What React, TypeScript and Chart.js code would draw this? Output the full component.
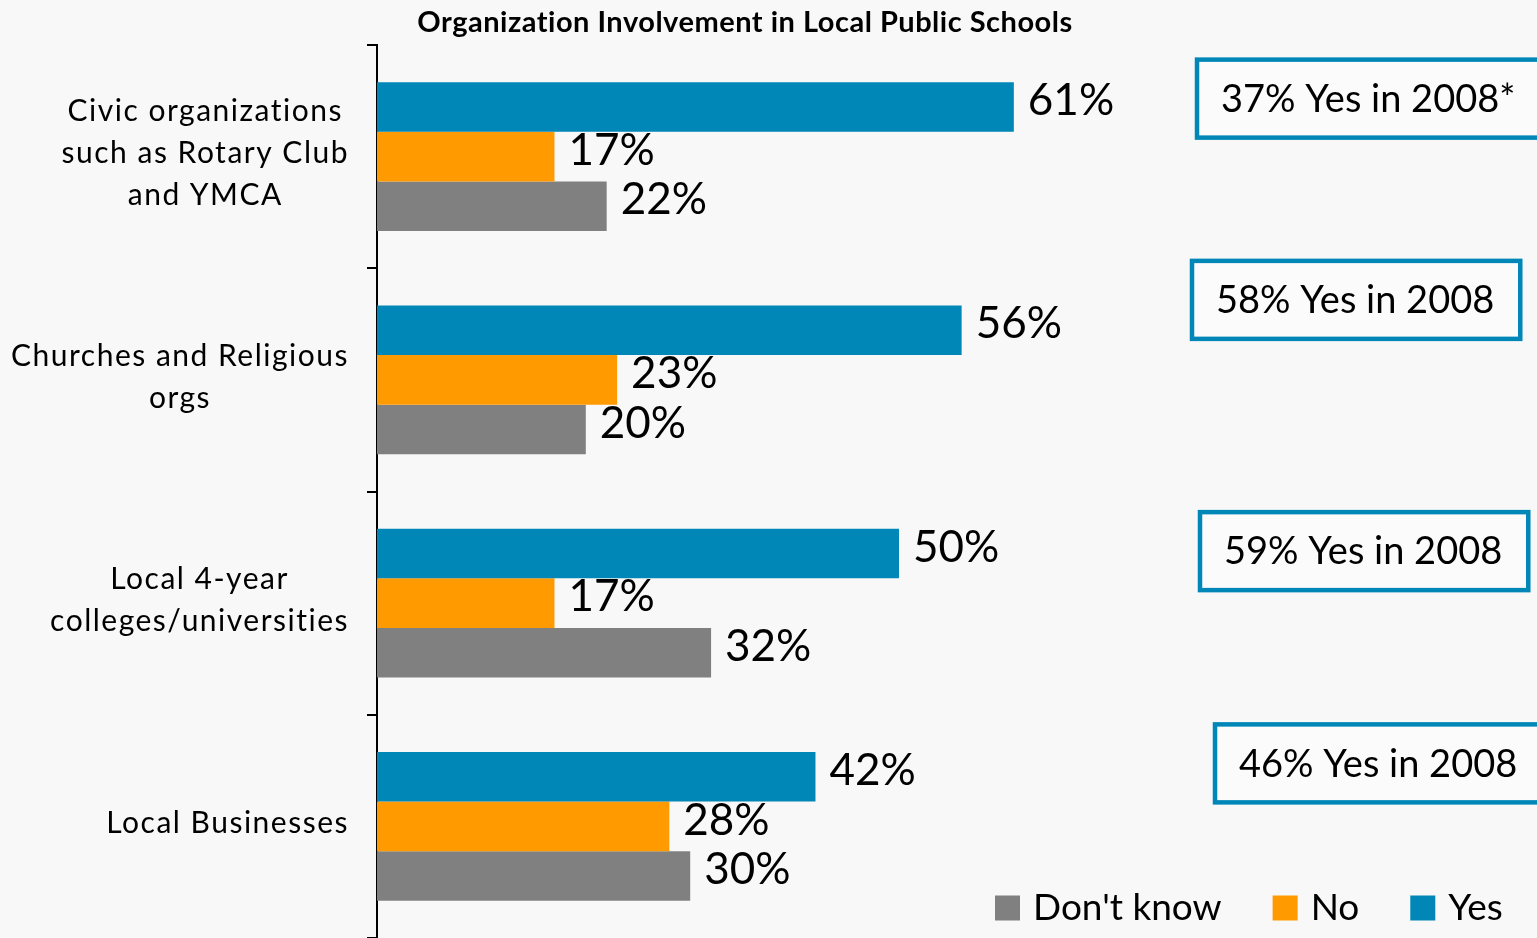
import { useEffect, useRef } from 'react';
import { Chart, registerables } from 'chart.js';

Chart.register(...registerables);

const chartTitle = 'Organization Involvement in Local Public Schools';
const categories: string[][] = [
  ['Civic organizations', 'such as Rotary Club', 'and YMCA'],
  ['Churches and Religious', 'orgs'],
  ['Local 4-year', 'colleges/universities'],
  ['Local Businesses'],
];
const seriesLabels = ['Yes', 'No', "Don't know"];
const yesValues = [61, 56, 50, 42];
const noValues = [17, 23, 17, 28];
const dontKnowValues = [22, 20, 32, 30];
const yes2008Values = [37, 58, 59, 46];
const yes2008Notes = ['*', '', '', ''];

const COLORS = ['#0087b8', '#ff9a00', '#808080'];
const FONT = 'Lato, "Noto Sans", sans-serif';

// annotation box placement (style/layout only)
const BOX_LAYOUT = [
  { left: 820, dy: -58 },
  { left: 815, dy: -80 },
  { left: 823, dy: -52 },
  { left: 838, dy: -63 },
];

const overlayPlugin = {
  id: 'overlay',
  afterDatasetsDraw(chart: any) {
    const { ctx, chartArea, scales } = chart;
    const y = scales.y;
    ctx.save();
    ctx.fillStyle = '#000';
    ctx.textBaseline = 'middle';

    // value labels
    ctx.font = `44px ${FONT}`;
    ctx.textAlign = 'left';
    chart.data.datasets.forEach((ds: any, di: number) => {
      const meta = chart.getDatasetMeta(di);
      meta.data.forEach((bar: any, i: number) => {
        ctx.fillText(`${ds.data[i]}%`, bar.x + 14, bar.y - 6);
      });
    });

    // category labels
    ctx.font = `30px ${FONT}`;
    (ctx as any).letterSpacing = '1.5px';
    const labelRight = chartArea.left - 28;
    categories.forEach((lines, i) => {
      const cy = y.getPixelForValue(i) - 3;
      const w = Math.max(...lines.map((l) => ctx.measureText(l).width));
      const cx = labelRight - w / 2;
      ctx.textAlign = 'center';
      lines.forEach((l, k) => {
        ctx.fillText(l, cx, cy + (k - (lines.length - 1) / 2) * 42);
      });
    });

    // title
    ctx.font = `bold 29px ${FONT}`;
    (ctx as any).letterSpacing = '0.5px';
    ctx.textAlign = 'center';
    ctx.fillText(chartTitle, 745, 23);
    (ctx as any).letterSpacing = '0px';

    // 2008 comparison boxes
    ctx.font = `38px ${FONT}`;
    ctx.textAlign = 'left';
    yes2008Values.forEach((v, i) => {
      const text = `${v}% Yes in 2008${yes2008Notes[i]}`;
      const tw = ctx.measureText(text).width;
      const lay = BOX_LAYOUT[i];
      const bx = chartArea.left + lay.left;
      const cy = y.getPixelForValue(i) + lay.dy;
      const bw = tw + 50;
      const bh = 78;
      ctx.fillStyle = '#fbfbfb';
      ctx.fillRect(bx, cy - bh / 2, bw, bh);
      ctx.strokeStyle = '#0087b8';
      ctx.lineWidth = 4.5;
      ctx.strokeRect(bx, cy - bh / 2, bw, bh);
      ctx.fillStyle = '#000';
      ctx.fillText(text, bx + 24, cy + 1);
    });

    // legend (reversed order)
    ctx.font = `37px ${FONT}`;
    let lx = 995;
    const ly = 908;
    const n = chart.data.datasets.length;
    for (let k = n - 1; k >= 0; k--) {
      const ds = chart.data.datasets[k];
      ctx.fillStyle = ds.backgroundColor;
      ctx.fillRect(lx, ly - 12.5, 25, 25);
      lx += 25 + 13;
      ctx.fillStyle = '#000';
      ctx.textAlign = 'left';
      ctx.fillText(ds.label, lx, ly);
      lx += ctx.measureText(ds.label).width + 51;
    }
    ctx.restore();
  },
};

export default function App() {
  const ref = useRef<HTMLCanvasElement | null>(null);
  useEffect(() => {
    if (!ref.current) return;
    const chart = new Chart(ref.current, {
      type: 'bar',
      data: {
        labels: categories.map((c) => c.join(' ')),
        datasets: [
          { label: seriesLabels[0], data: yesValues, backgroundColor: COLORS[0] },
          { label: seriesLabels[1], data: noValues, backgroundColor: COLORS[1] },
          { label: seriesLabels[2], data: dontKnowValues, backgroundColor: COLORS[2] },
        ],
      },
      options: {
        indexAxis: 'y',
        animation: false,
        responsive: false,
        maintainAspectRatio: false,
        layout: { padding: { top: 45, right: 116, bottom: 0, left: 0 } },
        datasets: { bar: { categoryPercentage: 0.667, barPercentage: 1 } },
        scales: {
          x: { display: false, min: 0, max: 100 },
          y: {
            afterFit: (s: any) => {
              s.width = 377;
            },
            ticks: { display: false },
            grid: {
              drawOnChartArea: false,
              offset: true,
              tickLength: 10,
              color: '#000',
              lineWidth: 2,
            },
            border: { color: '#000', width: 2 },
          },
        },
        plugins: {
          legend: { display: false },
          title: { display: false },
          tooltip: { enabled: false },
        },
      } as any,
      plugins: [overlayPlugin],
    });
    return () => chart.destroy();
  }, []);
  return (
    <div style={{ position: 'fixed', left: 0, top: 0, width: 1537, height: 938, background: '#f8f8f8' }}>
      <canvas ref={ref} width={1537} height={938} style={{ display: 'block' }} />
    </div>
  );
}
